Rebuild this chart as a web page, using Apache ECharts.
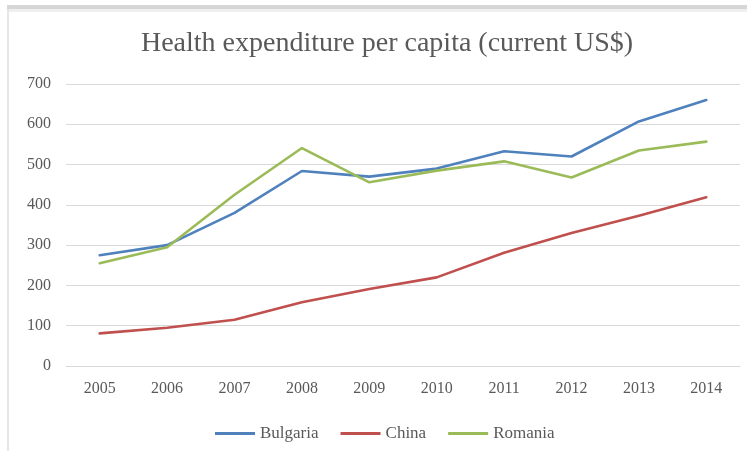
<!DOCTYPE html>
<html>
<head>
<meta charset="utf-8">
<title>Health expenditure per capita</title>
<script src="https://cdn.jsdelivr.net/npm/echarts@6/dist/echarts.min.js"></script>
<style>
  html, body { margin: 0; padding: 0; background: #ffffff; }
  #chart { width: 747px; height: 451px; }
</style>
</head>
<body>
<div id="chart"></div>
<script>
// Health expenditure per capita, current US$
const years = ['2005', '2006', '2007', '2008', '2009', '2010', '2011', '2012', '2013', '2014'];
const bulgaria = [275, 300, 380, 484, 470, 490, 533, 520, 607, 660];
const china = [81, 95, 115, 158, 191, 220, 281, 330, 373, 419];
const romania = [255, 295, 425, 541, 456, 485, 508, 468, 535, 557];
const yTicks = { min: 0, max: 700, interval: 100 };

const serif = '"Liberation Serif", "Times New Roman", serif';
const textGray = '#595959';

const chart = echarts.init(document.getElementById('chart'), null, { renderer: 'canvas' });

function lineSeries(name, data, color) {
  return {
    name: name,
    type: 'line',
    data: data,
    symbol: 'none',
    smooth: false,
    lineStyle: { width: 2.6, color: color, cap: 'round', join: 'round' },
    itemStyle: { color: color },
    emphasis: { disabled: true }
  };
}

chart.setOption({
  animation: false,
  backgroundColor: '#ffffff',
  graphic: [
    // frame edges around the chart area
    { type: 'rect', shape: { x: 7, y: 5, width: 740, height: 4 }, style: { fill: '#d6d6d6' }, silent: true },
    { type: 'rect', shape: { x: 7, y: 9, width: 740, height: 3 }, style: { fill: '#efefef' }, silent: true },
    { type: 'rect', shape: { x: 7, y: 9, width: 2, height: 442 }, style: { fill: '#e6e6e6' }, silent: true }
  ],
  title: {
    text: 'Health expenditure per capita (current US$)',
    left: 382,
    textAlign: 'center',
    top: 25,
    textStyle: { fontFamily: serif, fontSize: 28, fontWeight: 'normal', color: textGray }
  },
  legend: {
    left: 210,
    top: 420,
    itemWidth: 40,
    itemHeight: 12,
    itemGap: 22,
    icon: 'path://M0,4.5 L40,4.5 L40,7.5 L0,7.5 Z',
    textStyle: { fontFamily: serif, fontSize: 17, color: textGray },
    data: ['Bulgaria', 'China', 'Romania']
  },
  grid: { left: 66, right: 7, top: 84, bottom: 85, containLabel: false },
  xAxis: {
    type: 'category',
    data: years,
    boundaryGap: true,
    axisLine: { show: true, lineStyle: { color: '#d9d9d9', width: 1 } },
    axisTick: { show: false },
    axisLabel: { fontFamily: serif, fontSize: 16, color: textGray, margin: 15 },
    splitLine: { show: false }
  },
  yAxis: {
    type: 'value',
    min: yTicks.min,
    max: yTicks.max,
    interval: yTicks.interval,
    axisLine: { show: false },
    axisTick: { show: false },
    axisLabel: { fontFamily: serif, fontSize: 16, color: textGray, margin: 15 },
    splitLine: { show: true, lineStyle: { color: '#d9d9d9', width: 1 } }
  },
  series: [
    lineSeries('Bulgaria', bulgaria, '#4f81bd'),
    lineSeries('China', china, '#c0504d'),
    lineSeries('Romania', romania, '#9bbb59')
  ]
});
</script>
</body>
</html>
